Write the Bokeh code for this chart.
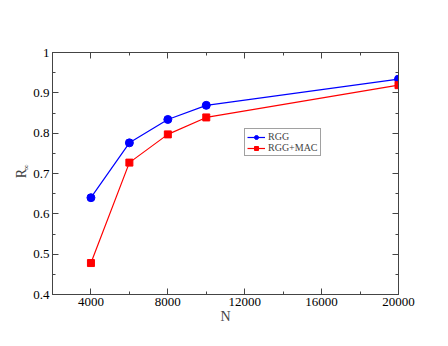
from bokeh.plotting import figure
from bokeh.models import (LinearAxis, SingleIntervalTicker, FixedTicker, PrintfTickFormatter,
                          CustomJSTickFormatter, Legend, LegendItem, Title, Range1d)
from bokeh.embed import file_html
from bokeh.resources import INLINE

N = [4000, 6000, 8000, 10000, 20000]
rgg = [0.640, 0.776, 0.834, 0.869, 0.934]
rgg_mac = [0.478, 0.727, 0.797, 0.839, 0.919]
y_major = [0.4, 0.5, 0.6, 0.7, 0.8, 0.9, 1.0]
y_minor = [0.45, 0.55, 0.65, 0.75, 0.85, 0.95]

FONT = "Liberation Serif"
AX = "#444444"

p = figure(frame_width=346, frame_height=242, min_border_left=52, min_border_right=42,
           min_border_top=52, min_border_bottom=44,
           x_range=Range1d(2000, 20000), y_range=Range1d(0.4, 1.0),
           output_backend="svg", toolbar_location=None, x_axis_type=None, y_axis_type=None)
p.xgrid.visible = False
p.ygrid.visible = False
p.outline_line_color = AX
p.background_fill_color = "white"
p.border_fill_color = "white"

def style(ax, labels=True):
    ax.axis_line_color = AX
    ax.major_tick_line_color = AX
    ax.minor_tick_line_color = AX
    ax.major_tick_in = 6
    ax.major_tick_out = 0
    ax.minor_tick_in = 3
    ax.minor_tick_out = 0
    ax.major_label_text_font = FONT
    ax.major_label_text_color = "black"
    ax.major_label_text_font_size = "13px"
    ax.major_label_standoff = 3
    if not labels:
        ax.formatter = CustomJSTickFormatter(code="return ''")
        ax.major_label_standoff = 0

for loc, lab in (("below", True), ("above", False)):
    ax = LinearAxis(ticker=SingleIntervalTicker(interval=4000, num_minor_ticks=2))
    style(ax, lab)
    if lab:
        ax.axis_label = "N"
        ax.axis_label_text_font = FONT
        ax.axis_label_text_font_size = "14px"
        ax.axis_label_text_font_style = "normal"
        ax.axis_label_standoff = 0
    p.add_layout(ax, loc)

for loc, lab in (("left", True), ("right", False)):
    ax = LinearAxis(ticker=FixedTicker(ticks=y_major, minor_ticks=y_minor),
                    formatter=PrintfTickFormatter(format="%g"))
    style(ax, lab)
    p.add_layout(ax, loc)

# y label: R with subscript infinity (inner part first, then outer)
p.add_layout(Title(text="\u221e", align="left", offset=124, standoff=0,
                   text_font=FONT, text_font_size="8.5px", text_font_style="normal"), "left")
p.add_layout(Title(text="R", align="center", standoff=-20,
                   text_font=FONT, text_font_size="14px", text_font_style="normal"), "left")

l1 = p.line(N, rgg, line_color="#0000ff", line_width=1.2)
s1 = p.scatter(N, rgg, marker="circle", size=8, fill_color="#0000ff", line_color="#0000ff")
l2 = p.line(N, rgg_mac, line_color="#ff0000", line_width=1.2)
s2 = p.scatter(N, rgg_mac, marker="square", size=7, fill_color="#ff0000", line_color="#ff0000")

legend = Legend(items=[LegendItem(label="RGG", renderers=[l1, s1]),
                       LegendItem(label="RGG+MAC", renderers=[l2, s2])],
                location=(192, 138), orientation="vertical",
                label_text_font=FONT, label_text_font_size="10px",
                label_height=10, glyph_height=10, glyph_width=18, label_standoff=3,
                padding=2, spacing=0, margin=0,
                border_line_color=AX, border_line_width=1,
                background_fill_alpha=1)
p.add_layout(legend, "center")

open("out.html", "w").write(file_html(p, INLINE))
